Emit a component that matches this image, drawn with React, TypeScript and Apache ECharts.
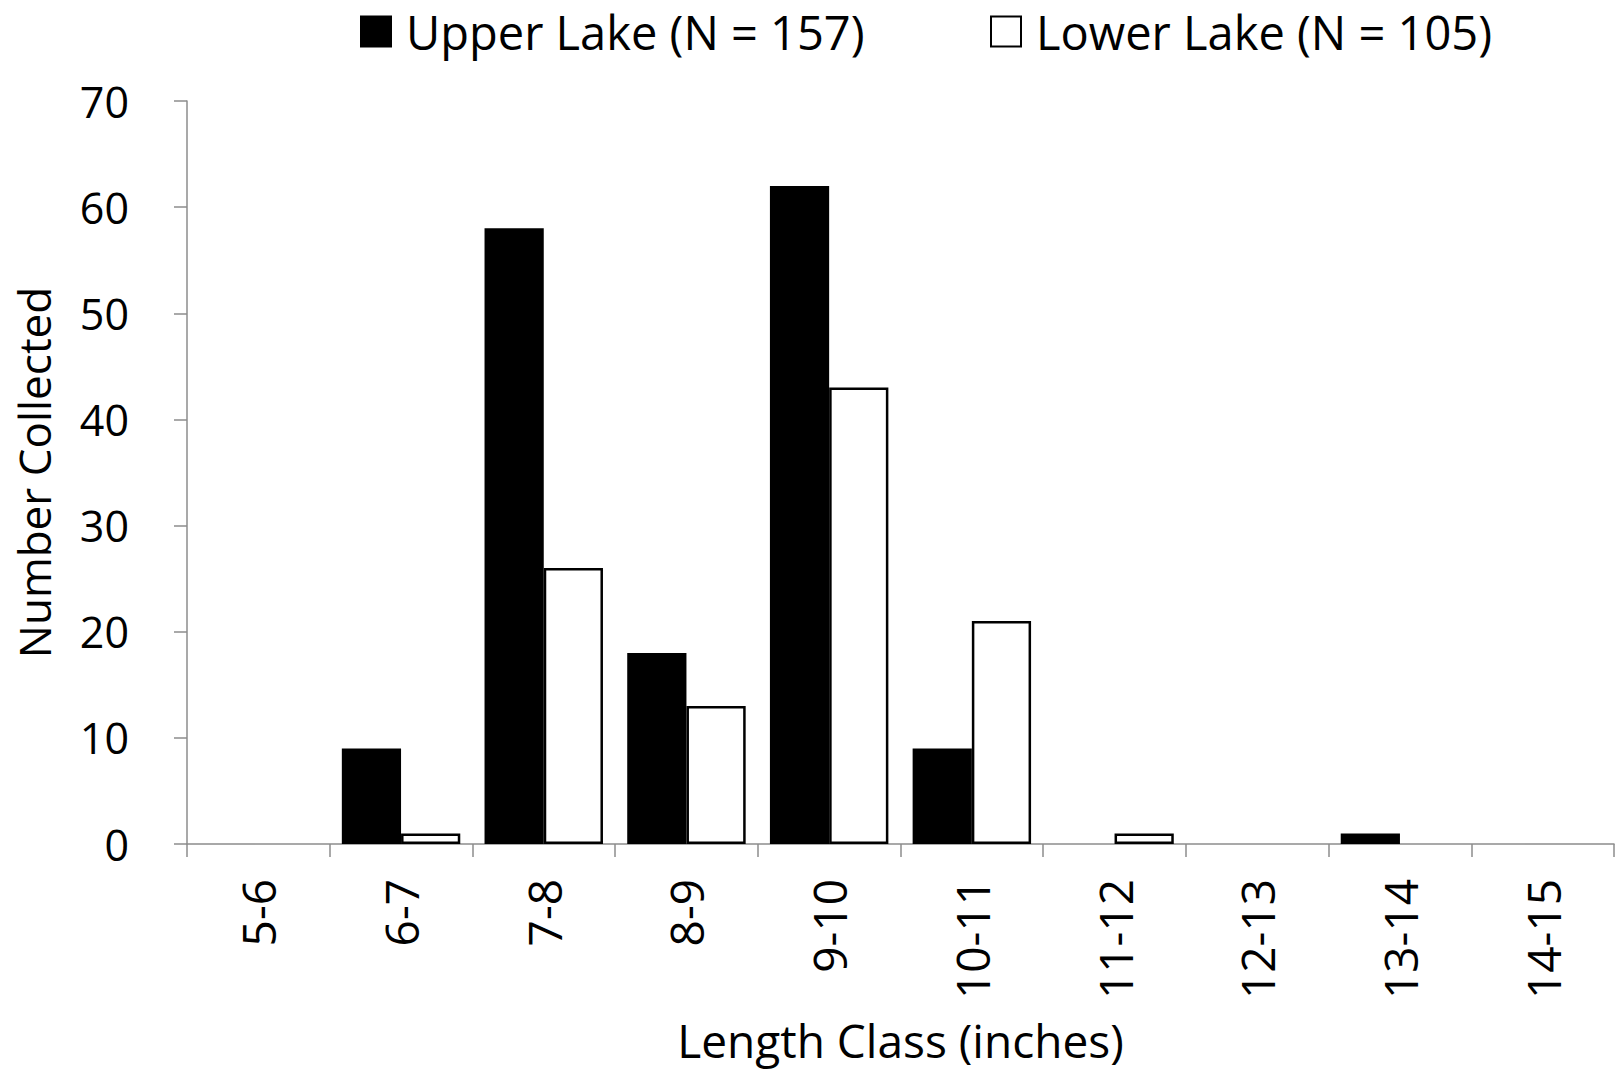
import React, { useEffect, useRef } from "react";
import * as echarts from "echarts";

const categories = ["5-6", "6-7", "7-8", "8-9", "9-10", "10-11", "11-12", "12-13", "13-14", "14-15"];
const upperLake = [0, 9, 58, 18, 62, 9, 0, 0, 1, 0];
const lowerLake = [0, 1, 26, 13, 43, 21, 1, 0, 0, 0];
const seriesNames = ["Upper Lake (N = 157)", "Lower Lake (N = 105)"];
const yTicks = { min: 0, max: 70, interval: 10 };

const FONT = "'Open Sans', 'Noto Sans', sans-serif";

const toData = (arr: number[]) =>
  arr.map((v) => (v === 0 ? { value: v, itemStyle: { borderWidth: 0, opacity: 0 } } : v));

export default function App() {
  const ref = useRef<HTMLDivElement>(null);
  useEffect(() => {
    if (!ref.current) return;
    const chart = echarts.init(ref.current, null, { renderer: "svg" });
    const legendBase = {
      top: 8,
      padding: 0,
      itemWidth: 30,
      itemHeight: 30,
      icon: "rect",
      textStyle: { fontSize: 47, color: "#000", fontFamily: FONT, padding: [0, 0, 0, 10] },
    };
    chart.setOption({
      animation: false,
      backgroundColor: "#ffffff",
      textStyle: { fontFamily: FONT },
      grid: { left: 187, right: 3, top: 101, bottom: 224, containLabel: false },
      legend: [
        { ...legendBase, left: 360, data: [seriesNames[0]] },
        { ...legendBase, left: 990, data: [seriesNames[1]] },
      ],
      xAxis: {
        type: "category",
        data: categories,
        axisLine: { lineStyle: { color: "#8c8c8c", width: 1.5 } },
        axisTick: { show: true, length: 13, lineStyle: { color: "#8c8c8c", width: 1.5 } },
        axisLabel: { rotate: 90, fontSize: 46, color: "#000", margin: 35, fontFamily: FONT },
        name: "Length Class (inches)",
        nameLocation: "middle",
        nameGap: 171,
        nameTextStyle: { fontSize: 46, color: "#000", fontFamily: FONT, lineHeight: 50 },
      },
      yAxis: {
        type: "value",
        min: yTicks.min,
        max: yTicks.max,
        interval: yTicks.interval,
        splitLine: { show: false },
        axisLine: { show: true, lineStyle: { color: "#8c8c8c", width: 1.5 } },
        axisTick: { show: true, length: 13, lineStyle: { color: "#8c8c8c", width: 1.5 } },
        axisLabel: { fontSize: 43, color: "#000", margin: 58, fontFamily: FONT },
        name: "Number Collected",
        nameLocation: "middle",
        nameGap: 131,
        nameTextStyle: { fontSize: 44, color: "#000", fontFamily: FONT },
      },
      series: [
        {
          name: seriesNames[0],
          type: "bar",
          data: toData(upperLake),
          barGap: "0%",
          barCategoryGap: "17%",
          itemStyle: { color: "#000", borderColor: "#000", borderWidth: 2.5 },
        },
        {
          name: seriesNames[1],
          type: "bar",
          data: toData(lowerLake),
          itemStyle: { color: "#fff", borderColor: "#000", borderWidth: 2.5 },
        },
      ],
    });
    return () => chart.dispose();
  }, []);
  return (
    <div
      ref={ref}
      style={{ position: "fixed", left: 0, top: 0, width: 1617, height: 1070, background: "#fff" }}
    />
  );
}
